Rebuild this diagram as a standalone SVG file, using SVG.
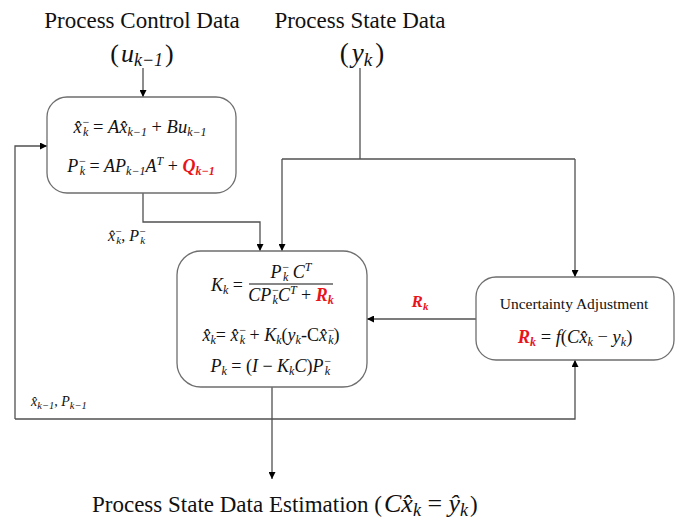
<svg xmlns="http://www.w3.org/2000/svg" width="681" height="522" viewBox="0 0 681 522">
<defs>
<marker id="ah" viewBox="0 0 10 10" refX="10" refY="5" markerWidth="7" markerHeight="7" orient="auto" markerUnits="userSpaceOnUse">
<path d="M0,0 L10,5 L0,10 z" fill="#000"/>
</marker>
<style>
.box{fill:#fff;stroke:#6e6e6e;stroke-width:1.3}
.ln{fill:none;stroke:#505050;stroke-width:1.3}
.arr{marker-end:url(#ah)}
text{font-family:"Liberation Serif","DejaVu Serif",serif;fill:#111}
.m{font-style:italic}
.u{font-style:normal}
.red{fill:#e8141b;font-weight:bold}
</style>
</defs>
<rect width="681" height="522" fill="#fff"/>

<g id="connectors">
<path class="ln arr" d="M143,68 V97"/>
<path class="ln" d="M360,68 V159"/>
<path class="ln" d="M282,159 H575"/>
<path class="ln arr" d="M282,159 V251"/>
<path class="ln arr" d="M575,159 V277"/>
<path class="ln arr" d="M143,193 V222 H260 V251"/>
<path class="ln arr" d="M476,319 H367"/>
<path class="ln arr" d="M272,387 V479"/>
<path class="ln arr" d="M15,419 H575 V360"/>
<path class="ln arr" d="M15,419 V146 H47"/>
<text class="m" x="108" y="241" font-size="16" font-family="Liberation Serif, serif">x̂<tspan font-size="11" dy="-6">−</tspan><tspan font-size="11" dx="-6.2" dy="9">k</tspan><tspan class="u" dy="-3">, </tspan>P<tspan font-size="11" dy="-6">−</tspan><tspan font-size="11" dx="-6.2" dy="9">k</tspan></text>
<text class="m" x="31" y="406" font-size="14" font-family="Liberation Serif, serif">x̂<tspan font-size="10.5" dy="3">k−1</tspan><tspan class="u" dy="-3">, </tspan>P<tspan font-size="10.5" dy="3">k−1</tspan></text>
<text class="m red" x="420" y="307" font-size="17" text-anchor="middle" font-family="Liberation Serif, serif">R<tspan font-size="11" dy="3">k</tspan></text>
</g>

<g id="title-control">
<text x="142" y="28" font-size="23" text-anchor="middle" font-family="Liberation Serif, serif">Process Control Data</text>
<text class="m" x="142" y="62" font-size="26" text-anchor="middle" font-family="Liberation Serif, serif"><tspan class="u">(</tspan><tspan dx="2">u</tspan><tspan font-size="18" dy="4">k−1</tspan><tspan class="u" dx="2" dy="-4">)</tspan></text>
</g>

<g id="title-state">
<text x="360" y="28" font-size="23" text-anchor="middle" font-family="Liberation Serif, serif">Process State Data</text>
<text class="m" x="362" y="62" font-size="27" text-anchor="middle" font-family="Liberation Serif, serif"><tspan class="u">(</tspan><tspan dx="3">y</tspan><tspan font-size="19" dy="4">k</tspan><tspan class="u" dx="3" dy="-4">)</tspan></text>
</g>

<g id="predict">
<rect class="box" x="47" y="97" width="189" height="96" rx="20"/>
<text class="m" x="140" y="133" font-size="18.5" text-anchor="middle" font-family="Liberation Serif, serif">x̂<tspan font-size="12" dy="-7">−</tspan><tspan font-size="12" dx="-6.8" dy="10">k</tspan><tspan class="u" dy="-3"> = </tspan>Ax̂<tspan font-size="12" dy="3">k−1</tspan><tspan class="u" dy="-3"> + </tspan>Bu<tspan font-size="12" dy="3">k−1</tspan></text>
<text class="m" x="141" y="172" font-size="18" text-anchor="middle" font-family="Liberation Serif, serif">P<tspan font-size="12" dy="-7">−</tspan><tspan font-size="12" dx="-6.8" dy="10">k</tspan><tspan class="u" dy="-3"> = </tspan>AP<tspan font-size="12" dy="3">k−1</tspan><tspan dy="-3">A</tspan><tspan font-size="12" dy="-7">T</tspan><tspan class="u" dy="7"> + </tspan><tspan class="red">Q</tspan><tspan class="red" font-size="12" dy="3">k−1</tspan></text>
</g>

<g id="update">
<rect class="box" x="177" y="251" width="190" height="136" rx="24"/>
<text class="m" x="211" y="291" font-size="18" font-family="Liberation Serif, serif">K<tspan font-size="12" dy="3">k</tspan><tspan class="u" dy="-3"> =</tspan></text>
<text class="m" x="291" y="278" font-size="18" text-anchor="middle" font-family="Liberation Serif, serif">P<tspan font-size="12" dy="-7">−</tspan><tspan font-size="12" dx="-6.8" dy="10">k</tspan><tspan dy="-3"> C</tspan><tspan font-size="12" dy="-7">T</tspan></text>
<line x1="249" y1="284" x2="333" y2="284" stroke="#111" stroke-width="1.1"/>
<text class="m" x="291" y="301" font-size="18" text-anchor="middle" font-family="Liberation Serif, serif">CP<tspan font-size="12" dy="-7">−</tspan><tspan font-size="12" dx="-6.8" dy="10">k</tspan><tspan dy="-3">C</tspan><tspan font-size="12" dy="-7">T</tspan><tspan class="u" dy="7"> + </tspan><tspan class="red">R</tspan><tspan class="red" font-size="12" dy="3">k</tspan></text>
<text class="m" x="271" y="341" font-size="18" text-anchor="middle" font-family="Liberation Serif, serif">x̂<tspan font-size="12" dy="3">k</tspan><tspan class="u" dy="-3">= </tspan>x̂<tspan font-size="12" dy="-7">−</tspan><tspan font-size="12" dx="-6.8" dy="10">k</tspan><tspan class="u" dy="-3"> + </tspan>K<tspan font-size="12" dy="3">k</tspan><tspan class="u" dy="-3">(</tspan>y<tspan font-size="12" dy="3">k</tspan><tspan class="u" dy="-3">-C</tspan>x̂<tspan font-size="12" dy="-7">−</tspan><tspan font-size="12" dx="-6.8" dy="10">k</tspan><tspan class="u" dy="-3">)</tspan></text>
<text class="m" x="271" y="372" font-size="18" text-anchor="middle" font-family="Liberation Serif, serif">P<tspan font-size="12" dy="3">k</tspan><tspan class="u" dy="-3"> = (</tspan>I<tspan class="u"> − </tspan>K<tspan font-size="12" dy="3">k</tspan><tspan dy="-3">C</tspan><tspan class="u">)</tspan>P<tspan font-size="12" dy="-7">−</tspan><tspan font-size="12" dx="-6.8" dy="10">k</tspan></text>
</g>

<g id="uncertainty">
<rect class="box" x="476" y="277" width="198" height="83" rx="20"/>
<text x="574" y="309" font-size="15.5" text-anchor="middle" font-family="Liberation Serif, serif">Uncertainty Adjustment</text>
<text class="m" x="575" y="343" font-size="18.5" text-anchor="middle" font-family="Liberation Serif, serif"><tspan class="red">R</tspan><tspan class="red" font-size="12" dy="3">k</tspan><tspan class="u" dy="-3"> = </tspan>f<tspan class="u">(</tspan>Cx̂<tspan font-size="12" dy="3">k</tspan><tspan class="u" dy="-3"> − </tspan>y<tspan font-size="12" dy="3">k</tspan><tspan class="u" dy="-3">)</tspan></text>
</g>

<g id="output">
<text x="92" y="512" font-size="23" font-family="Liberation Serif, serif">Process State Data Estimation (<tspan class="m" font-size="26" dx="2">Cx̂</tspan><tspan class="m" font-size="18" dy="4">k</tspan><tspan font-size="26" dy="-4"> = </tspan><tspan class="m" font-size="26">ŷ</tspan><tspan class="m" font-size="18" dy="4">k</tspan><tspan dx="2" dy="-4">)</tspan></text>
</g>
</svg>
